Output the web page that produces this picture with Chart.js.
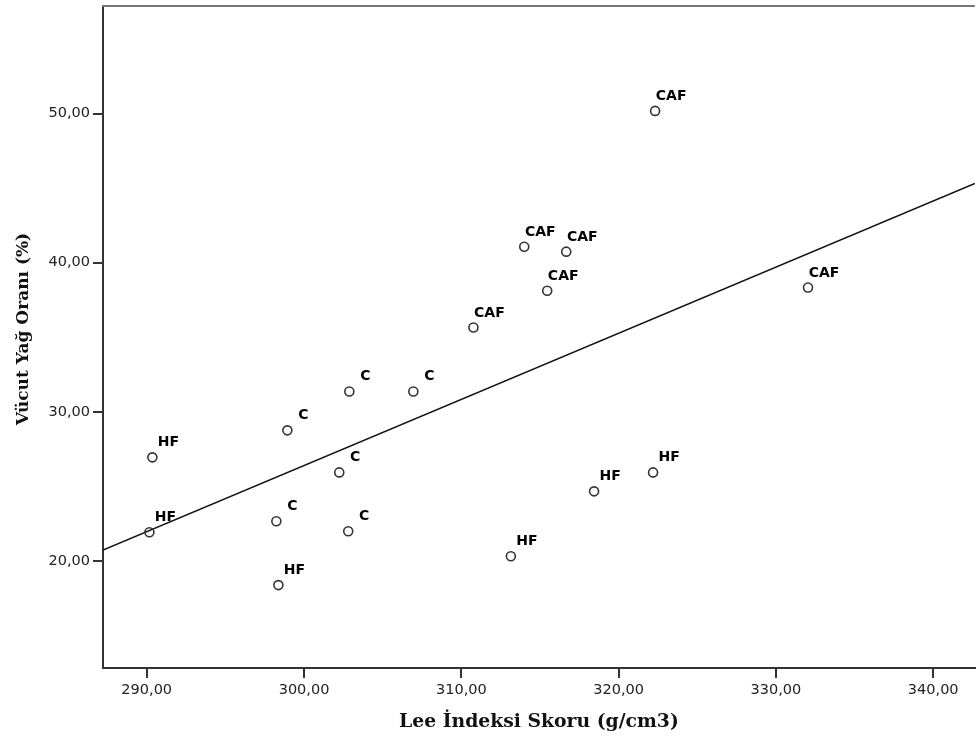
<!DOCTYPE html>
<html>
<head>
<meta charset="utf-8">
<script src="https://cdn.jsdelivr.net/npm/chart.js@4.4.1/dist/chart.umd.min.js"></script>
<style>
  html, body { margin: 0; background: #fff; overflow: hidden; }
  /* a few pixels wider than the window so the plot runs off the right edge */
  #wrap { width: 981px; height: 743px; }
</style>
</head>
<body>
<div id="wrap"><canvas id="leeChart"></canvas></div>
<script>
// Lee index vs body fat, one label per animal group
const leeIndex = [290.17, 290.36, 298.37, 298.24, 298.94, 302.24, 302.81, 302.88, 306.95,
                  310.77, 314.00, 316.67, 315.46, 322.32, 332.04, 313.15, 318.44, 322.19];
const bodyFat  = [21.92, 26.94, 18.37, 22.65, 28.75, 25.93, 21.98, 31.36, 31.36,
                  35.65, 41.07, 40.74, 38.12, 50.18, 38.33, 20.31, 24.66, 25.93];
const groups   = ['HF', 'HF', 'HF', 'C', 'C', 'C', 'C', 'C', 'C',
                  'CAF', 'CAF', 'CAF', 'CAF', 'CAF', 'CAF', 'HF', 'HF', 'HF'];

const xRange = [287.22, 342.65];
const yRange = [12.81, 57.21];
const tickStep = 10;
const yTitle = 'Vücut Yağ Oranı (%)';

// least squares fit for the trend line
function fitLine(xs, ys) {
    const n = xs.length;
    const mx = xs.reduce((a, b) => a + b, 0) / n;
    const my = ys.reduce((a, b) => a + b, 0) / n;
    let sxy = 0, sxx = 0;
    for (let i = 0; i < n; i++) {
        sxy += (xs[i] - mx) * (ys[i] - my);
        sxx += (xs[i] - mx) * (xs[i] - mx);
    }
    const slope = sxy / sxx;
    return { slope: slope, intercept: my - slope * mx };
}

const fit = fitLine(leeIndex, bodyFat);
const fitPoints = xRange.map(x => ({ x: x, y: fit.intercept + fit.slope * x }));
const points = leeIndex.map((x, i) => ({ x: x, y: bodyFat[i] }));

const fmt = v => v.toFixed(2).replace('.', ',');

// ticks only on round tens, not at the range ends
const roundTicks = scale => {
    const ticks = [];
    for (let v = Math.ceil(scale.min / tickStep) * tickStep; v <= scale.max; v += tickStep) {
        ticks.push({ value: v });
    }
    scale.ticks = ticks;
};

const groupLabels = {
    id: 'groupLabels',
    afterDatasetsDraw(chart) {
        const ctx = chart.ctx;
        const meta = chart.getDatasetMeta(0);
        ctx.save();
        ctx.font = 'bold 14px "DejaVu Sans"';
        ctx.fillStyle = '#000';
        ctx.textAlign = 'center';
        ctx.textBaseline = 'alphabetic';
        meta.data.forEach((pt, i) => {
            ctx.fillText(groups[i], pt.x + 16, pt.y - 11);
        });
        ctx.restore();
    }
};

// top edge of the frame and the vertical axis title
const frameExtras = {
    id: 'frameExtras',
    afterDraw(chart) {
        const { ctx, chartArea } = chart;
        ctx.save();
        ctx.strokeStyle = '#777';
        ctx.lineWidth = 2;
        ctx.beginPath();
        ctx.moveTo(chartArea.left - 1, chartArea.top);
        ctx.lineTo(chartArea.right, chartArea.top);
        ctx.stroke();

        ctx.translate(24, (chartArea.top + chartArea.bottom) / 2 - 8);
        ctx.rotate(-Math.PI / 2);
        ctx.font = 'bold 17px "DejaVu Serif"';
        ctx.fillStyle = '#111';
        ctx.textAlign = 'center';
        ctx.textBaseline = 'middle';
        ctx.fillText(yTitle, 0, 0);
        ctx.restore();
    }
};

const ctx = document.getElementById('leeChart').getContext('2d');
const leeChart = new Chart(ctx, {
    type: 'scatter',
    data: {
        datasets: [{
            data: points,
            pointRadius: 4.5,
            pointBorderWidth: 1.6,
            borderColor: '#333',
            backgroundColor: 'rgba(0,0,0,0)',
            pointHoverRadius: 4.5
        }, {
            type: 'line',
            data: fitPoints,
            borderColor: '#111',
            borderWidth: 1.5,
            pointRadius: 0,
            fill: false
        }]
    },
    options: {
        responsive: true,
        maintainAspectRatio: false,
        animation: false,
        layout: { padding: { top: 5, right: 0, left: 0, bottom: 0 } },
        plugins: {
            legend: { display: false },
            tooltip: { enabled: false }
        },
        scales: {
            x: {
                type: 'linear',
                min: xRange[0],
                max: xRange[1],
                afterBuildTicks: roundTicks,
                afterFit: s => { s.height = 75; s.paddingLeft = 0; s.paddingRight = 0; },
                grid: { drawOnChartArea: false, drawTicks: true, tickLength: 10, color: '#333', lineWidth: 2 },
                border: { display: true, color: '#333', width: 2 },
                ticks: {
                    padding: 4,
                    color: '#222',
                    font: { family: '"DejaVu Sans"', size: 14.5 },
                    callback: v => fmt(v),
                    maxRotation: 0
                },
                title: {
                    display: true,
                    text: 'Lee İndeksi Skoru (g/cm3)',
                    color: '#111',
                    font: { family: '"DejaVu Serif"', size: 18.8, weight: 'bold' },
                    padding: { top: 0, bottom: 10 }
                }
            },
            y: {
                type: 'linear',
                min: yRange[0],
                max: yRange[1],
                afterBuildTicks: roundTicks,
                afterFit: s => { s.width = 103; s.paddingTop = 0; s.paddingBottom = 0; },
                grid: { drawOnChartArea: false, drawTicks: true, tickLength: 10, color: '#333', lineWidth: 2 },
                border: { display: true, color: '#333', width: 2 },
                ticks: {
                    padding: 3,
                    color: '#222',
                    font: { family: '"DejaVu Sans"', size: 14.5 },
                    callback: v => fmt(v)
                }
            }
        }
    },
    plugins: [groupLabels, frameExtras]
});
</script>
</body>
</html>
